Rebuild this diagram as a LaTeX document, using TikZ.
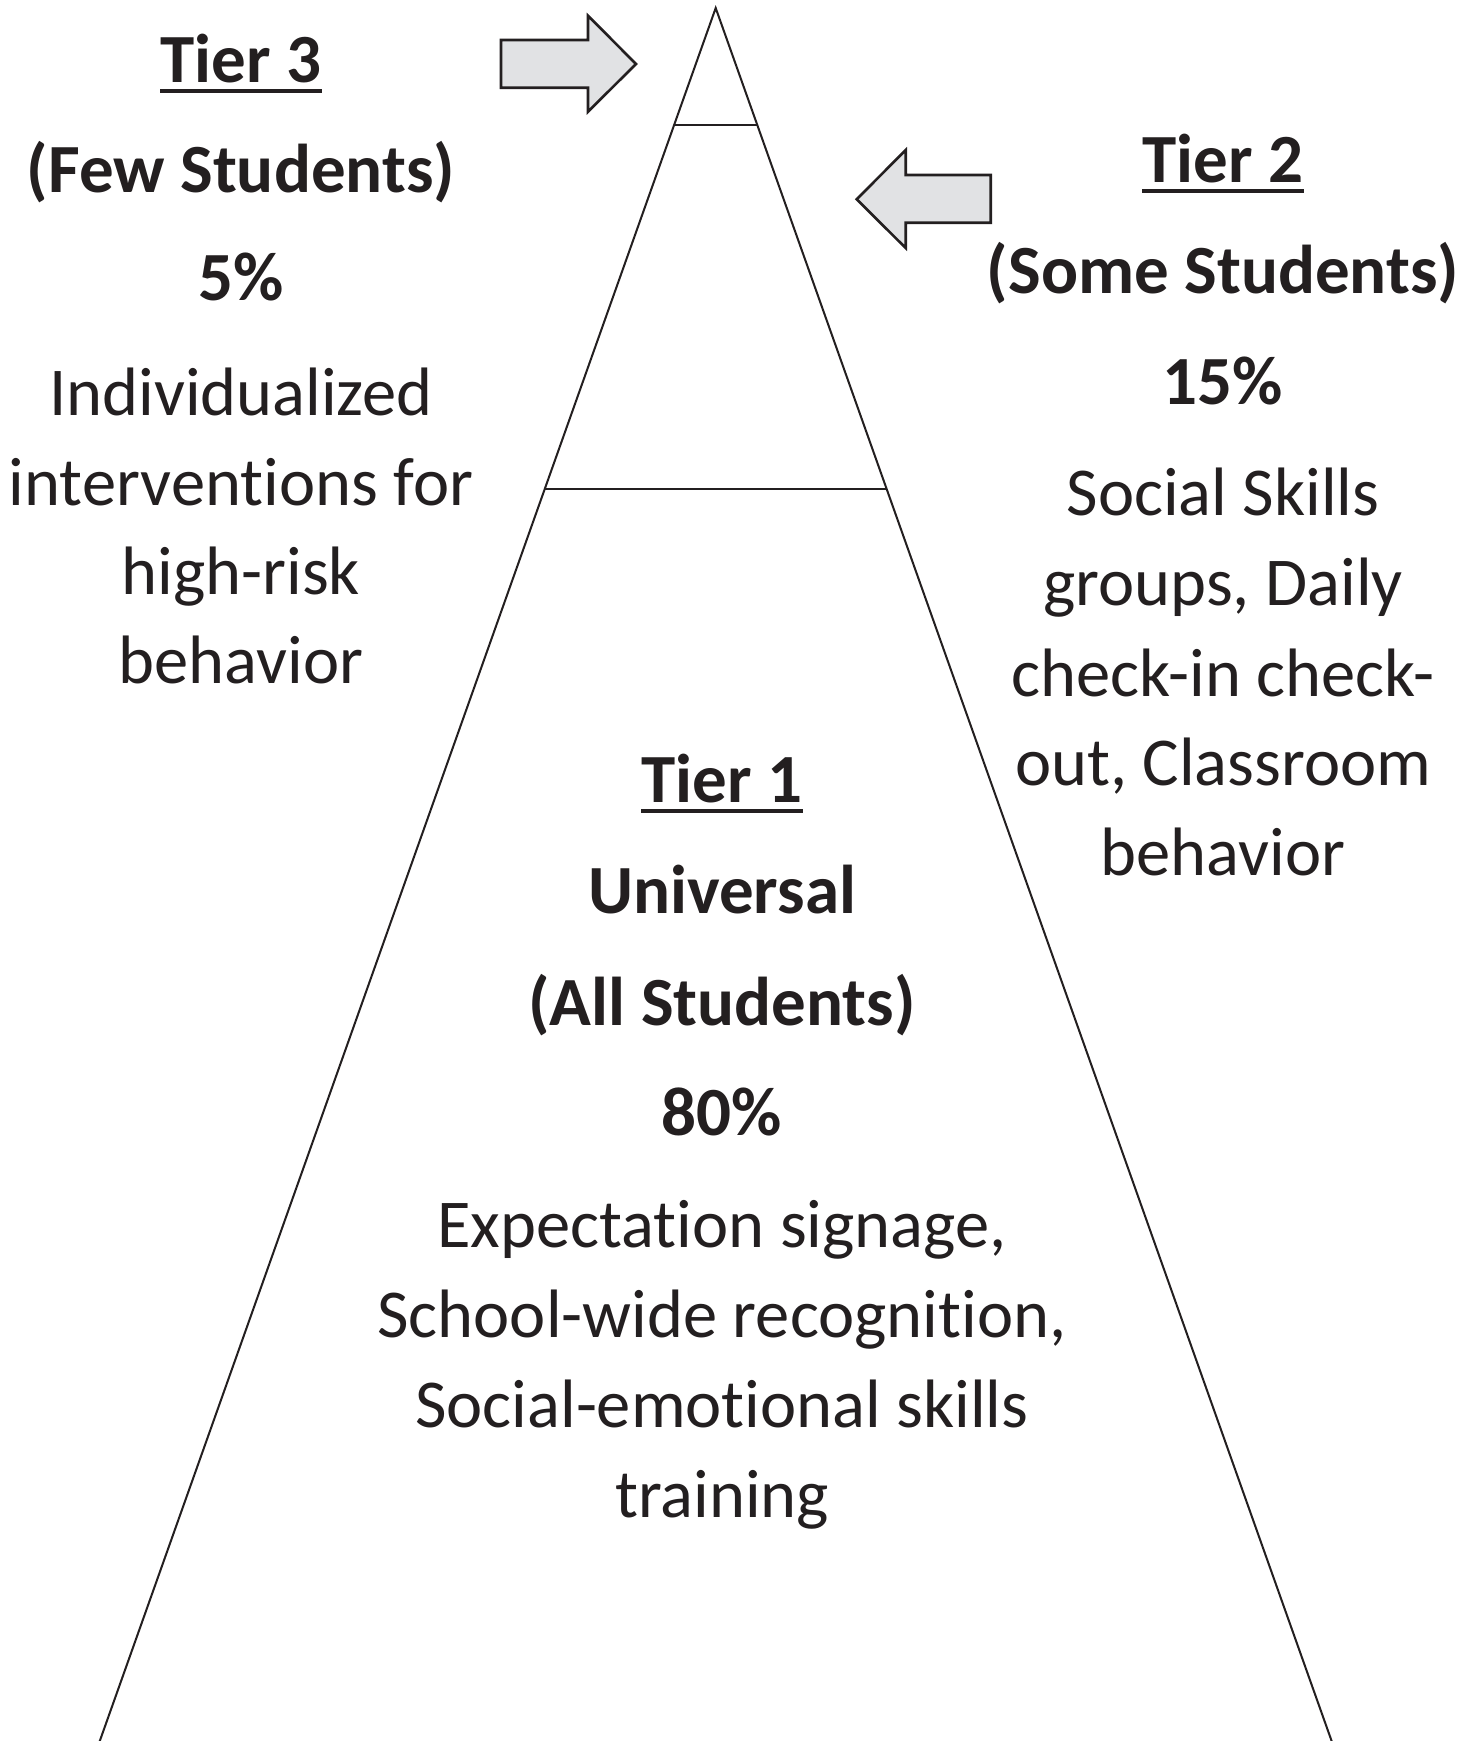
\documentclass[tikz,border=0pt]{standalone}
\usepackage{fontspec}
\setmainfont{Carlito}[Ligatures={NoCommon,NoDiscretionary,NoContextual}]
\usetikzlibrary{calc}
\definecolor{ink}{HTML}{231F20}
\definecolor{arrowfill}{HTML}{E1E2E4}
\begin{document}
\begin{tikzpicture}[x=1pt,y=-1pt,
  txt/.style={anchor=base,inner sep=0pt,text=ink,font=\fontsize{68.5}{80}\selectfont},
  head/.style={txt,font=\fontsize{69}{80}\selectfont\bfseries},
  uline/.style={draw=ink,line width=4pt},
  edge/.style={draw=ink,line width=2pt,line join=miter},
  blockarrow/.style={draw=ink,fill=arrowfill,line width=2.6pt,line join=miter}]
\clip (0,0) rectangle (1473,1741);
\fill[white] (0,0) rectangle (1473,1741);

% pyramid outline and tier dividers
\coordinate (apex) at (715.7,8);
\coordinate (bl) at (98,1746);
\coordinate (br) at (1333.4,1746);
\draw[edge] (bl) -- (apex) -- (br);
\draw[edge] ($(apex)!0.0673!(bl)$) -- ($(apex)!0.0673!(br)$);
\draw[edge] ($(apex)!0.2766!(bl)$) -- ($(apex)!0.2766!(br)$);

% block arrows pointing at the tiers
\draw[blockarrow] (501,40) -- (588,40) -- (588,15.7) -- (636,64) -- (588,111.7) -- (588,87.7) -- (501,87.7) -- cycle;
\draw[blockarrow] (990.7,175) -- (905.7,175) -- (905.7,150) -- (856.7,199.3) -- (905.7,248) -- (905.7,222.7) -- (990.7,222.7) -- cycle;

% Tier 3
\node[head] (t3a) at (241,82) {Tier 3};
\draw[uline] ($(t3a.base west)+(0,9)$) -- ($(t3a.base east)+(0,9)$);
\node[head] (t3b) at (241,192) {(Few Students)};
\node[head] (t3c) at (241,300) {5\%};
\node[txt] (t3d) at (241,415) {Individualized};
\node[txt] (t3e) at (241,505) {interventions for};
\node[txt] (t3f) at (241,594) {high-risk};
\node[txt] (t3g) at (241,683) {behavior};

% Tier 2
\node[head] (t2a) at (1223,182) {Tier 2};
\draw[uline] ($(t2a.base west)+(0,9)$) -- ($(t2a.base east)+(0,9)$);
\node[head] (t2b) at (1223,293) {(Some Students)};
\node[head] (t2c) at (1223,404) {15\%};
\node[txt] (t2d) at (1223,515) {Social Skills};
\node[txt] (t2e) at (1223,605) {groups, Daily};
\node[txt] (t2f) at (1223,696) {check-in check-};
\node[txt] (t2g) at (1223,785) {out, Classroom};
\node[txt] (t2h) at (1223,875) {behavior};

% Tier 1
\node[head] (t1a) at (722,802) {Tier 1};
\draw[uline] ($(t1a.base west)+(0,9)$) -- ($(t1a.base east)+(0,9)$);
\node[head] (t1b) at (722,913) {Universal};
\node[head] (t1c) at (722,1025) {(All Students)};
\node[head] (t1d) at (722,1135) {80\%};
\node[txt] (t1e) at (722,1247) {Expectation signage,};
\node[txt] (t1f) at (722,1337) {School-wide recognition,};
\node[txt] (t1g) at (722,1427) {Social-emotional skills};
\node[txt] (t1h) at (722,1517) {training};
\end{tikzpicture}
\end{document}
